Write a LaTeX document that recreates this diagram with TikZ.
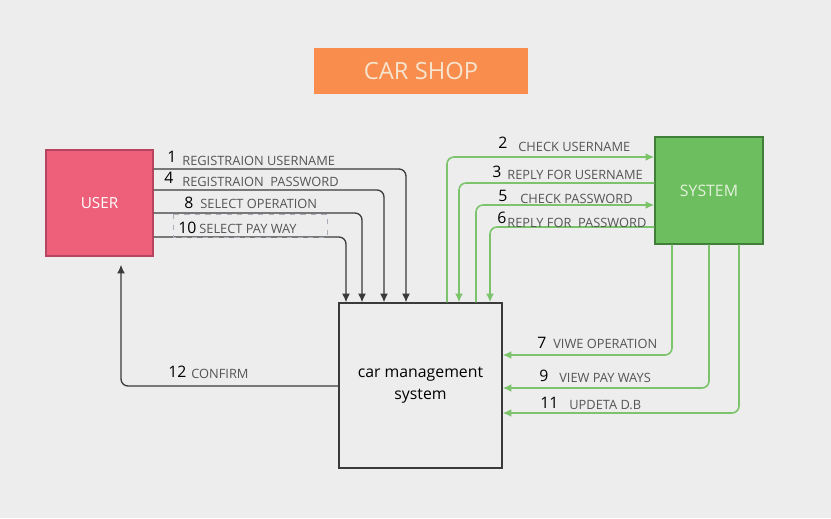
\documentclass[tikz,border=0pt]{standalone}
\usepackage{fontspec}
\setmainfont{Open Sans}
\usetikzlibrary{positioning,arrows.meta}

\definecolor{bgcol}{HTML}{EDEDED}
\definecolor{titlecol}{HTML}{F98D4D}
\definecolor{titletxt}{HTML}{F7E4CF}
\definecolor{usercol}{HTML}{EE6079}
\definecolor{userdraw}{HTML}{B84560}
\definecolor{syscol}{HTML}{6DBE5E}
\definecolor{sysdraw}{HTML}{3F7F38}
\definecolor{systxt}{HTML}{E3F2DC}
\definecolor{greenline}{HTML}{7CC46C}
\definecolor{darkline}{HTML}{3A3A3A}
\definecolor{lblcol}{HTML}{555555}
\definecolor{dashcol}{HTML}{A9B0BC}

\tikzset{
  num/.style={anchor=base west, inner sep=0pt, font=\fontsize{9}{10}\selectfont, text=black},
  lbl/.style={anchor=base west, inner sep=0pt, font=\fontsize{7.3}{9}\selectfont, text=lblcol},
  dline/.style={draw=darkline, line width=0.75pt, rounded corners=4pt, ->, >={Latex[length=5pt,width=4.5pt]}},
  gline/.style={draw=greenline, line width=0.9pt, rounded corners=4pt, ->, >={Latex[length=5pt,width=4.5pt]}},
}

\begin{document}
\begin{tikzpicture}[x=0.02cm, y=-0.02cm]
\fill[bgcol] (0,0) rectangle (831,518);
\useasboundingbox (0,0) rectangle (831,518);

% boxes
\node[fill=titlecol, text=titletxt, minimum width=4.28cm, minimum height=0.92cm,
  font=\fontsize{13.5}{15}\selectfont] (title) at (421,71) {CAR SHOP};
\node[draw=userdraw, fill=usercol, text=white, line width=0.8pt, minimum width=2.14cm,
  minimum height=2.12cm, font=\fontsize{8.7}{10}\selectfont] (user) at (99.5,203) {USER};
\node[draw=sysdraw, fill=syscol, text=systxt, line width=0.8pt, minimum width=2.16cm,
  minimum height=2.14cm, font=\fontsize{9}{10}\selectfont] (sys) at (709,190.5) {SYSTEM};
\node[draw=darkline, line width=0.75pt, minimum width=3.26cm, minimum height=3.3cm,
  align=center, font=\fontsize{9}{12.5}\selectfont] (cms) at (420.5,385.5) {car management\\system};

% user -> car management system
\draw[dline] (user.east |- 0,169) -| (cms.north -| 406,0);
\draw[dline] (user.east |- 0,190) -| (cms.north -| 384,0);
\draw[dline] (user.east |- 0,213) -| (cms.north -| 362,0);
\draw[dline] (user.east |- 0,237) -| (cms.north -| 346,0);
\draw[dline, shorten >=0.16cm] (cms.west |- 0,386) -| (user.south -| 121,0);

% car management system <-> system
\draw[gline] (cms.north -| 447,0) |- (sys.west |- 0,157);
\draw[gline] (sys.west |- 0,183) -| (cms.north -| 459,0);
\draw[gline] (cms.north -| 476,0) |- (sys.west |- 0,205);
\draw[gline] (sys.west |- 0,227) -| (cms.north -| 490,0);
\draw[gline] (sys.south -| 672,0) |- (cms.east |- 0,355);
\draw[gline] (sys.south -| 709,0) |- (cms.east |- 0,388);
\draw[gline] (sys.south -| 739,0) |- (cms.east |- 0,413);

\draw[dashcol, dashed, line width=0.5pt] (173,214) rectangle (327,237);

% labels
\node[num] (n1) at (167,162) {1};
\node[lbl] (l1) at (182,165) {REGISTRAION USERNAME};
\node[num] (n4) at (164,183) {4};
\node[lbl] (l4) at (182,186) {REGISTRAION\ \ PASSWORD};
\node[num] (n8) at (184,208) {8};
\node[lbl] (l8) at (200,208) {SELECT OPERATION};
\node[num] (n10) at (178,233) {10};
\node[lbl] (l10) at (199,233) {SELECT PAY WAY};
\node[num] (n2) at (498,148) {2};
\node[lbl] (l2) at (518,151) {CHECK USERNAME};
\node[num] (n3) at (492,177) {3};
\node[lbl] (l3) at (507,179) {REPLY FOR USERNAME};
\node[num] (n5) at (498,201) {5};
\node[lbl] (l5) at (520,203) {CHECK PASSWORD};
\node[num] (n6) at (497,223) {6};
\node[lbl] (l6) at (507,227) {REPLY FOR\ \ PASSWORD};
\node[num] (n7) at (537,348) {7};
\node[lbl] (l7) at (553,348) {VIWE OPERATION};
\node[num] (n9) at (539,381) {9};
\node[lbl] (l9) at (559,382) {VIEW PAY WAYS};
\node[num] (n11) at (540,408) {11};
\node[lbl] (l11) at (569,409) {UPDETA D.B};
\node[num] (n12) at (168,377) {12};
\node[lbl] (l12) at (191,378) {CONFIRM};
\end{tikzpicture}
\end{document}
